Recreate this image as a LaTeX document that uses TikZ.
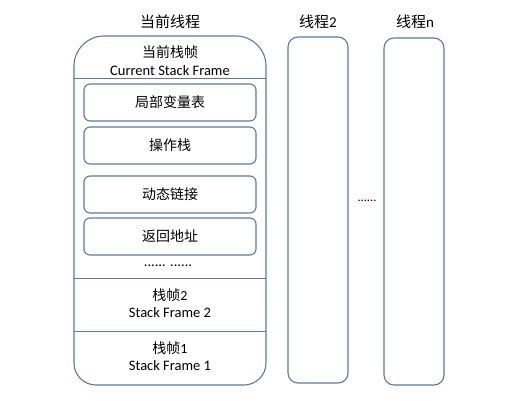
\documentclass[tikz,border=0pt]{standalone}
\usepackage{fontspec}
\setmainfont{Carlito}
\newfontfamily\cjk{Noto Sans CJK SC}
\definecolor{edge}{RGB}{95,120,160}
\begin{document}
\begin{tikzpicture}[x=1pt,y=-1pt,
  frame/.style={draw=edge,line width=1.1pt},
  slot/.style={draw=edge,line width=1.1pt,rounded corners=6pt,minimum width=172pt,minimum height=37pt,inner sep=0pt},
  cn/.style={font=\cjk\fontsize{14}{16}\selectfont,inner sep=0pt},
  en/.style={font=\fontsize{14.5}{16}\selectfont,inner sep=0pt},
  title/.style={font=\cjk\fontsize{15}{17}\selectfont,inner sep=0pt}]
\useasboundingbox (0,0) rectangle (524,401);
% main thread box
\draw[frame,rounded corners=30pt] (74,200) -- (74,36) -- (266,36) -- (266,200);
\draw[frame,rounded corners=22pt] (266,200) -- (266,385) -- (74,385) -- (74,200);
\draw[frame,line width=0.8pt] (74,78) -- (266,78);
\draw[frame,line width=0.8pt] (74,278) -- (266,278);
\draw[frame,line width=0.8pt] (74,331) -- (266,331);
% other threads
\node[frame,rounded corners=10pt,minimum width=60pt,minimum height=346pt,inner sep=0pt] (t2) at (318,210) {};
\node[frame,rounded corners=10pt,minimum width=60pt,minimum height=347pt,inner sep=0pt] (tn) at (414,211.5) {};
% titles
\node[title] (h1) at (170,22) {当前线程};
\node[title] (h2) at (318,22) {线程{\fontspec{Carlito}2}};
\node[title] (hn) at (415,22) {线程{\fontspec{Carlito}n}};
% current frame header
\node[cn] (cf) at (170,52) {当前栈帧};
\node[en] (cfe) at (170,71) {Current Stack Frame};
% slots
\node[slot,cn] (lv) at (170,102.5) {局部变量表};
\node[slot,cn] (os) at (170,145.5) {操作栈};
\node[slot,cn] (dl) at (170,194.5) {动态链接};
\node[slot,cn] (ra) at (170,236.5) {返回地址};
\node[en] (dots) at (168,266) {...... ......};
% frames
\node[cn] (f2) at (170,295) {栈帧{\fontspec{Carlito}2}};
\node[en] (f2e) at (170,313) {Stack Frame 2};
\node[cn] (f1) at (170,348) {栈帧{\fontspec{Carlito}1}};
\node[en] (f1e) at (170,366) {Stack Frame 1};
\node[font=\fontsize{12.5}{14}\selectfont,inner sep=0pt] (mid) at (367,201) {......};
\end{tikzpicture}
\end{document}
